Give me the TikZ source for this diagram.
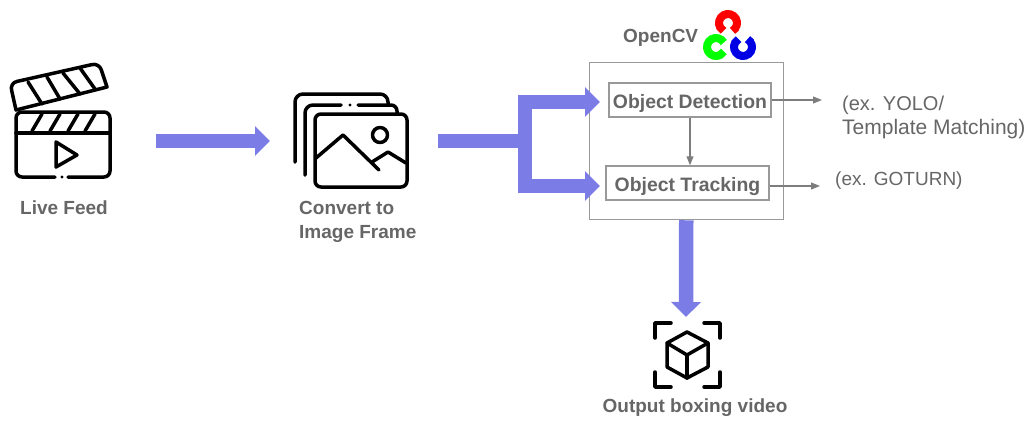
\documentclass[tikz,border=0pt]{standalone}
\usepackage{fontspec}
\setmainfont{Liberation Sans}
\usetikzlibrary{arrows.meta}

\definecolor{fatblue}{RGB}{124,124,230}
\definecolor{labelgray}{RGB}{102,102,102}
\definecolor{boxgray}{RGB}{153,153,153}

\tikzset{
  fatarrow/.style={line width=14.5pt, draw=fatblue, -{Triangle[length=15pt,width=29pt]}},
  fatbar/.style={line width=14.5pt, draw=fatblue},
  thinarrow/.style={line width=1.1pt, draw=labelgray!85, -{Triangle[length=9pt,width=7pt]}},
  iconline/.style={line width=3.5pt, line cap=round, line join=round},
  caption/.style={font=\bfseries\fontsize{19}{24}\selectfont, text=labelgray, inner sep=0pt},
  stepbox/.style={draw=boxgray, line width=1.5pt, fill=white, inner sep=0pt, text height=16pt, text depth=0pt, font=\bfseries\fontsize{19.4}{20}\selectfont, text=labelgray},
  remark/.style={font=\fontsize{20}{24}\selectfont, text=labelgray, inner sep=0pt, align=left},
}

\begin{document}
\begin{tikzpicture}[x=1pt,y=-1pt]
\useasboundingbox (0,0) rectangle (1034,426);

\draw[iconline, rounded corners=6pt] (55,177) -- (16,177) -- (16,112) -- (110,112) -- (110,177) -- (68,177);
\fill (62,177) circle (1.7);
\draw[iconline] (16,133) -- (110,133);
\draw[iconline] (32,131) -- (42,114);
\draw[iconline] (50,131) -- (60,114);
\draw[iconline] (68,131) -- (78,114);
\draw[iconline] (85,131) -- (95,114);
\draw[iconline] (56,142) -- (56,167) -- (77,155) -- cycle;
\draw[iconline] (16,110) [rounded corners=7pt] -- (10,83) -- (99,63) [sharp corners] -- (107,87) -- cycle;
\draw[iconline] (28,82) -- (42,104);
\draw[iconline] (47,77) -- (60,99);
\draw[iconline] (63,73) -- (80,94);
\draw[iconline] (80,68) -- (95,89);

\draw[iconline, rounded corners=8pt] (305,175) -- (305,105) -- (341,105);
\draw[iconline, rounded corners=6pt] (358,105) -- (397,105) -- (397,114);
\fill (350,105) circle (1.7);
\draw[iconline, rounded corners=8pt] (295,162) -- (295,94) -- (388,94) -- (388,104);
\draw[iconline, rounded corners=6pt] (315,114) rectangle (407,187);
\draw[iconline] (316,158) -- (343,135) -- (379,170);
\draw[iconline] (372,162) -- (388,152) -- (406,163);
\draw[iconline] (380,135) circle (7.5);

\node[caption] (livefeed) at (64,208) {Live Feed};
\node[caption, align=left, anchor=north west] (convert) at (299,201) {Convert to\\Image Frame};

\coordinate (feedout) at (156,141);
\coordinate (framein) at (270,141);
\coordinate (frameout) at (438,141);
\coordinate (splitmid) at (525,141);
\coordinate (splittop) at (525,95);
\coordinate (splitbot) at (525,193);
\coordinate (toptail) at (518,102);
\coordinate (bottail) at (518,186);
\coordinate (toptip) at (600,102);
\coordinate (bottip) at (600,186);
\coordinate (outtip) at (686,317);

\draw[fatarrow] (feedout) -- (framein);
\draw[fatbar] (frameout) -- (splitmid);

\node[draw=boxgray, line width=1.5pt, fill=white, minimum width=194pt, minimum height=157pt, inner sep=0pt] (opencvbox) at (686.25,141) {};
\node[stepbox, minimum width=162pt, minimum height=34pt] (detection) at (690,100) {Object Detection};
\node[stepbox, minimum width=163pt, minimum height=34pt] (tracking) at (687.5,183) {Object Tracking};

\draw[fatbar] (splittop) -- (splitbot);
\draw[fatarrow] (toptail) -- (toptip);
\draw[fatarrow] (bottail) -- (bottip);
\draw[fatarrow] (opencvbox.south) -- (outtip);

\draw[thinarrow] (detection.south) -- (tracking.north -| detection.south);
\coordinate (yoloend) at (822,100);
\coordinate (gotend) at (820,186);
\draw[thinarrow] (detection.east) -- (yoloend);
\draw[thinarrow] (tracking.east |- gotend) -- (gotend);

\node[remark, anchor=north west] (yolo) at (842,96) {(ex. YOLO/\\{\fontsize{21}{24}\selectfont Template Matching)}};
\node[remark, anchor=west, font=\fontsize{19}{24}\selectfont] (goturn) at (835,181) {(ex. GOTURN)};

\node[caption, anchor=west] (opencvlabel) at (623,38) {OpenCV};
\draw[line width=8pt, red] (732.5,30.8) arc[start angle=-60, end angle=240, radius=9pt];
\draw[line width=8pt, green] (723.8,42.5) arc[start angle=30, end angle=330, radius=9pt];
\draw[line width=8pt, blue!90!black] (747.5,39.2) arc[start angle=60, end angle=-240, radius=9pt];

\draw[iconline] (687,332) -- (708,343) -- (708,367) -- (687,378) -- (667,367) -- (667,343) -- cycle;
\draw[iconline] (667,343) -- (687,355) -- (708,343);
\draw[iconline] (687,355) -- (687,378);
\draw[iconline] (655,338) -- (655,323) -- (671,323);
\draw[iconline] (704,323) -- (720,323) -- (720,338);
\draw[iconline] (655,372) -- (655,387) -- (671,387);
\draw[iconline] (704,387) -- (720,387) -- (720,372);

\node[caption] (outputlabel) at (695,408) {Output boxing video};

\end{tikzpicture}
\end{document}
